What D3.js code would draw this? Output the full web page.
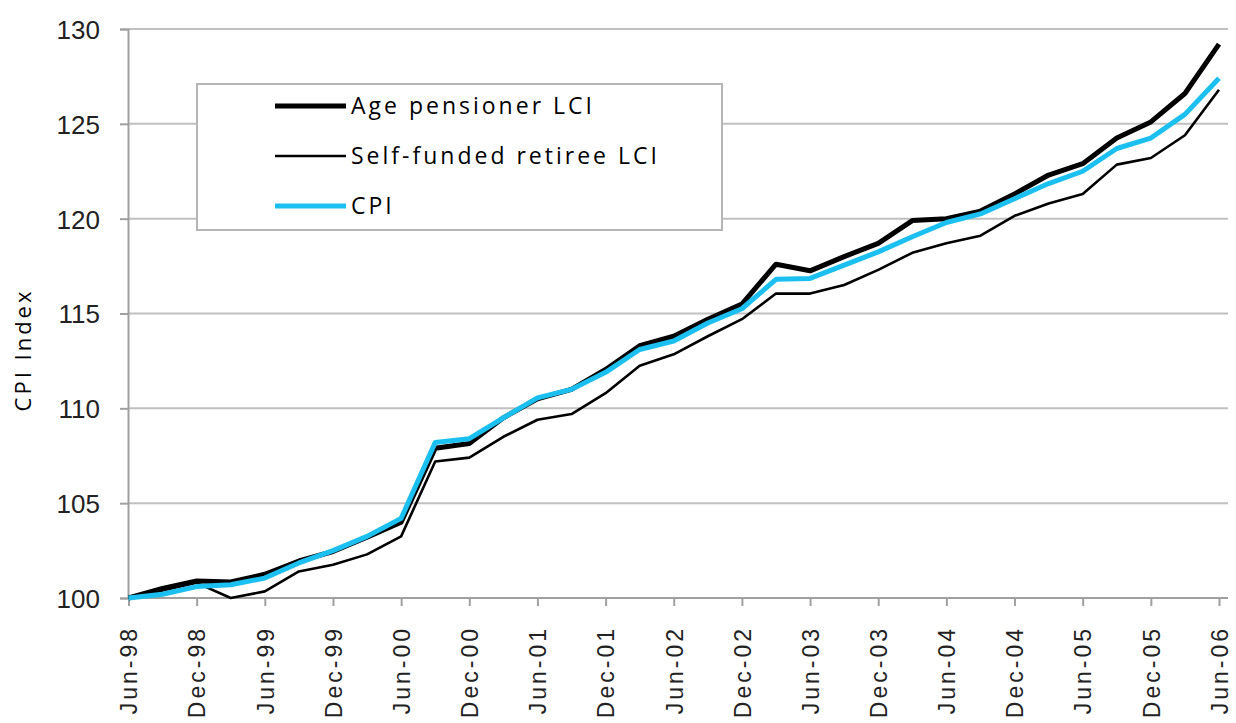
<!DOCTYPE html>
<html>
<head>
<meta charset="utf-8">
<script src="https://cdn.jsdelivr.net/npm/d3@7"></script>
<style>
  body { margin: 0; background: #fff; }
  svg { font-family: "Open Sans", "DejaVu Sans", sans-serif; }
  .grid line { stroke: #c0c0c0; stroke-width: 2; }
  .axis path, .axis line { stroke: #a0a0a0; stroke-width: 2; }
  .axis text { fill: #222; }
  .line { fill: none; stroke-linejoin: round; }
</style>
</head>
<body>
<script>
var quarters = ["Jun-98","Sep-98","Dec-98","Mar-99","Jun-99","Sep-99","Dec-99","Mar-00",
  "Jun-00","Sep-00","Dec-00","Mar-01","Jun-01","Sep-01","Dec-01","Mar-02",
  "Jun-02","Sep-02","Dec-02","Mar-03","Jun-03","Sep-03","Dec-03","Mar-04",
  "Jun-04","Sep-04","Dec-04","Mar-05","Jun-05","Sep-05","Dec-05","Mar-06","Jun-06"];

var agePensioner = [100, 100.5, 100.9, 100.85, 101.25, 101.95, 102.45, 103.2, 104.0, 107.9, 108.15,
  109.5, 110.5, 111.0, 112.05, 113.3, 113.8, 114.7, 115.5, 117.6, 117.25, 118.0, 118.7,
  119.9, 120.0, 120.4, 121.3, 122.3, 122.9, 124.25, 125.1, 126.6, 129.2];
var selfFunded = [100, 100.4, 100.8, 100.0, 100.35, 101.4, 101.75, 102.3, 103.25, 107.2, 107.4,
  108.5, 109.4, 109.7, 110.8, 112.25, 112.85, 113.8, 114.7, 116.05, 116.05, 116.5, 117.3,
  118.2, 118.7, 119.1, 120.15, 120.8, 121.3, 122.85, 123.2, 124.4, 126.8];
var cpi = [100, 100.2, 100.6, 100.7, 101.05, 101.85, 102.5, 103.25, 104.2, 108.2, 108.4,
  109.5, 110.55, 111.0, 111.9, 113.1, 113.55, 114.5, 115.25, 116.8, 116.85, 117.55, 118.25,
  119.05, 119.8, 120.25, 121.05, 121.85, 122.5, 123.7, 124.25, 125.5, 127.4];

var yTicks = [100, 105, 110, 115, 120, 125, 130];

var series = [
  {name: "Age pensioner LCI", values: agePensioner, color: "#000", width: 5},
  {name: "Self-funded retiree LCI", values: selfFunded, color: "#000", width: 2.6},
  {name: "CPI", values: cpi, color: "#1cc0f0", width: 5}
];

var W = 1236, H = 723;
var margin = {top: 29, right: 8, bottom: 125, left: 128};
var width = W - margin.left - margin.right,
    height = H - margin.top - margin.bottom;

var svg = d3.select("body").append("svg")
    .attr("width", W)
    .attr("height", H);

var g = svg.append("g")
    .attr("transform", "translate(" + margin.left + "," + margin.top + ")");

var x = d3.scalePoint().domain(quarters).range([0.5, width - 9]);
var y = d3.scaleLinear().domain([100, 130]).range([height, 0]);

// gridlines
g.append("g").attr("class", "grid")
  .selectAll("line")
  .data(yTicks.slice(1))
  .enter().append("line")
    .attr("x1", 0).attr("x2", width)
    .attr("y1", function(d) { return y(d); })
    .attr("y2", function(d) { return y(d); });

// y axis
var yAxis = g.append("g").attr("class", "axis axis--y")
    .call(d3.axisLeft(y).tickValues(yTicks).tickSize(8).tickPadding(20));
yAxis.selectAll("text").style("font-size", "26px").attr("dy", "0.36em");

// x axis
var xAxis = g.append("g").attr("class", "axis axis--x")
    .attr("transform", "translate(0," + height + ")")
    .call(d3.axisBottom(x)
      .tickValues(quarters.filter(function(d, i) { return i % 2 === 0; }))
      .tickSize(8).tickSizeOuter(0));
xAxis.select(".domain").attr("d", "M0,0H" + width);
xAxis.selectAll("text")
    .style("font-size", "23px")
    .style("letter-spacing", "3px")
    .attr("text-anchor", "end")
    .attr("transform", "rotate(-90)")
    .attr("x", -28)
    .attr("y", 0)
    .attr("dy", "0.36em");

// y title
svg.append("text")
    .attr("transform", "translate(31,350) rotate(-90)")
    .attr("text-anchor", "middle")
    .style("font-size", "22px")
    .style("letter-spacing", "3px")
    .text("CPI Index");

var line = d3.line()
    .x(function(d, i) { return x(quarters[i]); })
    .y(function(d) { return y(d); });

g.selectAll(".line")
  .data(series)
  .enter().append("path")
    .attr("class", "line")
    .attr("d", function(d) { return line(d.values); })
    .style("stroke", function(d) { return d.color; })
    .style("stroke-width", function(d) { return d.width; });

// legend
var legend = svg.append("g").attr("transform", "translate(197,84)");
legend.append("rect")
    .attr("width", 525).attr("height", 146)
    .attr("fill", "#fff")
    .attr("stroke", "#b5b5b5")
    .attr("stroke-width", 2);

var item = legend.selectAll(".item")
  .data(series)
  .enter().append("g")
    .attr("class", "item")
    .attr("transform", function(d, i) { return "translate(0," + (22 + i * 50) + ")"; });

item.append("line")
    .attr("x1", 78).attr("x2", 149)
    .style("stroke", function(d) { return d.color; })
    .style("stroke-width", function(d) { return d.width; });

item.append("text")
    .attr("x", 154)
    .attr("dy", "0.36em")
    .style("font-size", "23px")
    .style("letter-spacing", "3px")
    .text(function(d) { return d.name; });
</script>
</body>
</html>
